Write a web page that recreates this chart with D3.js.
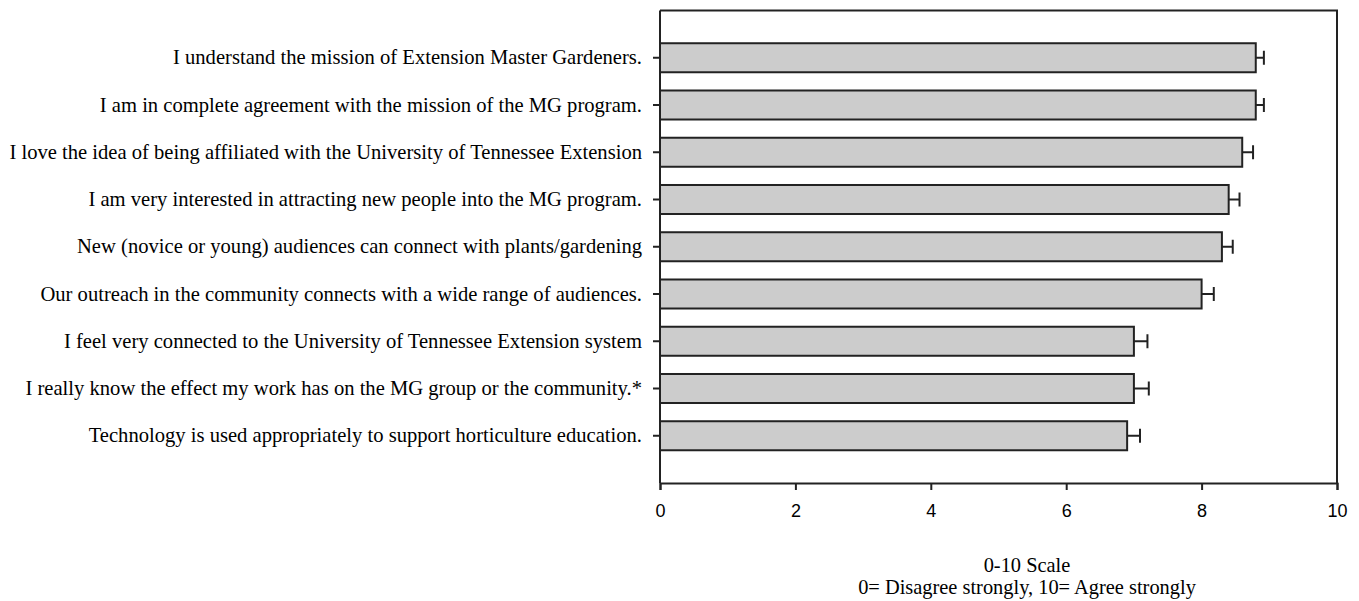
<!DOCTYPE html>
<html>
<head>
<meta charset="utf-8">
<script src="https://cdn.jsdelivr.net/npm/d3@7"></script>
<style>
  html, body { margin: 0; padding: 0; background: #fff; }
  svg { display: block; }
</style>
</head>
<body>
<svg id="chart" width="1359" height="601"></svg>
<script>
const statements = [
  "I understand the mission of Extension Master Gardeners.",
  "I am in complete agreement with the mission of the MG program.",
  "I love the idea of being affiliated with the University of Tennessee Extension",
  "I am very interested in attracting new people into the MG program.",
  "New (novice or young) audiences can connect with plants/gardening",
  "Our outreach in the community connects with a wide range of audiences.",
  "I feel very connected to the University of Tennessee Extension system",
  "I really know the effect my work has on the MG group or the community.*",
  "Technology is used appropriately to support horticulture education."
];
const meanScores = [8.8, 8.8, 8.6, 8.4, 8.3, 8.0, 7.0, 7.0, 6.9];
const stdErrors  = [0.12, 0.12, 0.16, 0.16, 0.16, 0.18, 0.2, 0.22, 0.19];
const xTicks = [0, 2, 4, 6, 8, 10];
const axisTitle = ["0-10 Scale", "0= Disagree strongly, 10= Agree strongly"];

const svg = d3.select("#chart");
const plot = { left: 660, right: 1337, top: 10.5, bottom: 483 };
const ink = "#222";
const serif = "Liberation Serif, Times New Roman, serif";

const x = d3.scaleLinear().domain([0, 10]).range([plot.left, plot.right]);
const y = d3.scaleBand()
  .domain(statements)
  .range([plot.top, plot.bottom])
  .paddingInner(0.386)
  .paddingOuter(0.693);

// plot frame (top and right edges)
svg.append("path")
  .attr("d", `M${plot.left},${plot.top}H${plot.right}V${plot.bottom}`)
  .attr("fill", "none").attr("stroke", ink).attr("stroke-width", 2);

// bars
svg.append("g").selectAll("rect")
  .data(statements)
  .join("rect")
  .attr("x", x(0))
  .attr("y", d => y(d))
  .attr("width", (d, i) => x(meanScores[i]) - x(0))
  .attr("height", y.bandwidth())
  .attr("fill", "#cccccc")
  .attr("stroke", ink)
  .attr("stroke-width", 2);

// error bars (upper side)
const err = svg.append("g").attr("stroke", ink).attr("stroke-width", 2);
statements.forEach((d, i) => {
  const cy = y(d) + y.bandwidth() / 2;
  const x0 = x(meanScores[i]);
  const x1 = x(meanScores[i] + stdErrors[i]);
  err.append("line").attr("x1", x0).attr("x2", x1).attr("y1", cy).attr("y2", cy);
  err.append("line").attr("x1", x1).attr("x2", x1).attr("y1", cy - 7).attr("y2", cy + 7);
});

// x axis
const xAxis = svg.append("g")
  .attr("transform", `translate(0,${plot.bottom})`)
  .call(d3.axisBottom(x).tickValues(xTicks).tickSize(7).tickPadding(14).tickFormat(d3.format("d")));
xAxis.select(".domain").attr("stroke", ink).attr("stroke-width", 2);
xAxis.selectAll(".tick line").attr("stroke", ink).attr("stroke-width", 2);
xAxis.selectAll("text")
  .attr("font-family", "Liberation Sans, Arial, sans-serif")
  .attr("font-size", 18).attr("fill", "#000");

// y axis
const yAxis = svg.append("g")
  .attr("transform", `translate(${plot.left},0)`)
  .call(d3.axisLeft(y).tickSize(7).tickPadding(11));
yAxis.select(".domain").attr("stroke", ink).attr("stroke-width", 2)
  .attr("d", `M0,${plot.top}V${plot.bottom}`);
yAxis.selectAll(".tick line").attr("stroke", ink).attr("stroke-width", 2);
yAxis.selectAll("text")
  .attr("font-family", serif)
  .attr("font-size", 20.6).attr("fill", "#000");

// axis title
svg.append("text")
  .attr("text-anchor", "middle")
  .attr("font-family", serif)
  .attr("font-size", 20.4)
  .selectAll("tspan")
  .data(axisTitle)
  .join("tspan")
  .attr("x", 1027)
  .attr("y", (d, i) => 572 + i * 22)
  .text(d => d);
</script>
</body>
</html>
